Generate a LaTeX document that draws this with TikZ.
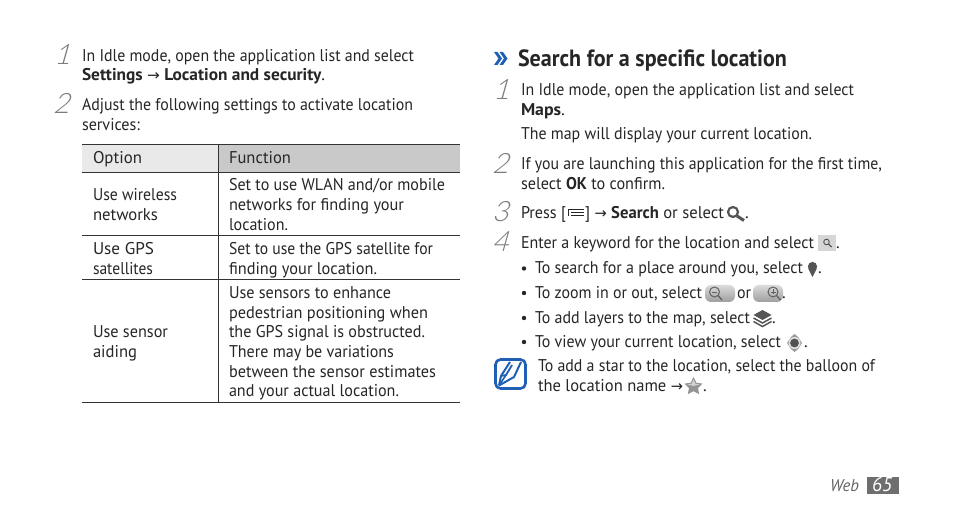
\documentclass[tikz,border=0pt]{standalone}
\usepackage{fontspec}
\usepackage{graphicx}
\setmainfont{PT Sans}
\newfontfamily\numf[FakeSlant=0.28]{Lato Light}
\newfontfamily\arrf{DejaVu Sans}
\newcommand\arr{{\arrf\fontsize{15}{20}\selectfont\mdseries →}}
\definecolor{ink}{HTML}{262626}
\definecolor{numc}{HTML}{7C7C7C}
\definecolor{hdl}{HTML}{E9E9E9}
\definecolor{hdr}{HTML}{C9C9C9}
\definecolor{rulec}{HTML}{333333}
\definecolor{bluec}{HTML}{1F5FB4}
\definecolor{pagec}{HTML}{6E6E6E}
\definecolor{iconc}{HTML}{555555}
\tikzset{
  txt/.style={anchor=base west,inner sep=0pt,outer sep=0pt,yshift=-0.7pt,text=ink,font=\fontsize{17}{20}\selectfont},
  stepnum/.style={anchor=base west,inner sep=0pt,text=numc,font=\fontsize{28}{28}\selectfont\numf},
  tabrule/.style={draw=rulec,line width=1pt},
  bulletdot/.style={circle,fill=ink,inner sep=0pt,minimum size=4.4pt},
}
\newcommand\tx[5]{\node[txt] (#1) at (#2,#3) {\resizebox{#4pt}{\height}{#5}};}
\newcommand\stepn[4]{\node[stepnum] (#1) at (#2,#3) {#4};}
\begin{document}
\begin{tikzpicture}[x=1pt,y=-1pt]
\useasboundingbox (0,0) rectangle (954,518);
\fill[white] (0,0) rectangle (954,518);
% left steps
\stepn{na}{54}{65}{1}
\stepn{nb}{53}{114}{2}
\tx{l1}{82}{61}{332}{In Idle mode, open the application list and select}
\tx{l2}{82}{80}{243}{\textbf{Settings \arr{} Location and security}.}
\tx{l3}{82}{110}{331}{Adjust the following settings to activate location}
\tx{l4}{82}{130}{58}{services:}
% table
\fill[hdl] (82,145) rectangle (218,172.5);
\fill[hdr] (218,145) rectangle (460,172.5);
\draw[tabrule] (82,145) -- (460,145);
\draw[tabrule] (82,172.5) -- (460,172.5);
\draw[tabrule] (82,236) -- (460,236);
\draw[tabrule] (82,279.5) -- (460,279.5);
\draw[tabrule] (82,403) -- (460,403);
\draw[tabrule] (218,145) -- (218,403);
\tx{t1}{93}{163}{49}{Option}
\tx{t2}{229}{163}{62}{Function}
\tx{t3}{93}{200}{84}{Use wireless}
\tx{t4}{93}{220}{65}{networks}
\tx{t5}{229}{190}{216}{Set to use WLAN and/or mobile}
\tx{t6}{229}{210}{175}{networks for finding your}
\tx{t7}{229}{230}{59}{location.}
\tx{t8}{93}{254}{61}{Use GPS}
\tx{t9}{93}{274}{60}{satellites}
\tx{t10}{229}{254}{204}{Set to use the GPS satellite for}
\tx{t11}{229}{274}{148}{finding your location.}
\tx{t12}{93}{337}{75}{Use sensor}
\tx{t13}{93}{357}{44}{aiding}
\tx{t14}{229}{298}{162}{Use sensors to enhance}
\tx{t15}{229}{318}{199}{pedestrian positioning when}
\tx{t16}{229}{337}{196}{the GPS signal is obstructed.}
\tx{t17}{229}{357}{165}{There may be variations}
\tx{t18}{229}{377}{207}{between the sensor estimates}
\tx{t19}{229}{396}{170}{and your actual location.}
% heading chevrons
\fill[bluec] (494,52) -- (497.5,52) -- (502,58.5) -- (497.5,65) -- (494,65) -- (498.5,58.5) -- cycle;
\fill[bluec] (499.5,52) -- (503,52) -- (507.5,58.5) -- (503,65) -- (499.5,65) -- (504,58.5) -- cycle;
\node[txt,font=\fontsize{23.5}{26}\selectfont\bfseries] (hd) at (518,66) {\resizebox{269pt}{\height}{Search for a specific location}};
% right steps
\stepn{ra}{493}{100}{1}
\stepn{rb}{492}{174}{2}
\stepn{rc}{492}{222}{3}
\stepn{rd}{492}{252}{4}
\tx{r1}{521}{95}{333}{In Idle mode, open the application list and select}
\tx{r2}{521}{115}{44}{\textbf{Maps}.}
\tx{r3}{521}{139}{291}{The map will display your current location.}
\tx{r4}{521}{169}{361}{If you are launching this application for the first time,}
\tx{r5}{521}{189}{144}{select \textbf{OK} to confirm.}
\tx{r6}{521}{218}{45}{Press [}
\tx{r7}{585}{218}{139}{] \arr{} \textbf{Search} or select}
\node[txt] (r7b) at (745,218) {.};
\tx{r8}{521}{248}{293}{Enter a keyword for the location and select}
\node[txt] (r8b) at (836,248) {.};
% bullets
\node[bulletdot] (b1) at (524,268.5) {};
\node[bulletdot] (b2) at (524,293) {};
\node[bulletdot] (b3) at (524,318) {};
\node[bulletdot] (b4) at (524,342) {};
\tx{r9}{535}{273}{268}{To search for a place around you, select}
\node[txt] (r9b) at (818,273) {.};
\tx{r10}{535}{298}{167}{To zoom in or out, select}
\tx{r10a}{737}{298}{14}{or}
\node[txt] (r10b) at (782,298) {.};
\tx{r11}{535}{323}{215}{To add layers to the map, select}
\node[txt] (r11b) at (772,323) {.};
\tx{r12}{535}{347}{246}{To view your current location, select}
\node[txt] (r12b) at (804,347) {.};
\tx{r13}{538}{371}{337}{To add a star to the location, select the balloon of}
\tx{r14}{538}{391}{145}{the location name \arr}
\node[txt] (r14b) at (703,391) {.};
% menu icon
\draw[ink,line width=1pt] (568.5,216) -- (568.5,210) -- (584,210);
\draw[ink,line width=1.4pt] (571,212.8) -- (584,212.8);
\draw[ink,line width=1.4pt] (571,215.8) -- (584,215.8);
% search icon
\draw[iconc,line width=2.2pt] (733,212) circle (5);
\draw[iconc,line width=3pt] (737,216) -- (744,220.5);
% search button
\fill[black!16] (818,235) rectangle (836,251);
\draw[iconc,line width=.9pt] (826.5,242) circle (2.8);
\draw[iconc,line width=1.1pt] (828.5,244) -- (831.5,247);
% pin
\fill[iconc] (808.2,268.5) -- (812.5,277) -- (816.8,268.5) -- cycle;
\fill[iconc] (812.5,266.5) circle (4.6);
% zoom out
\shade[top color=black!14,bottom color=black!38,rounded corners=6pt] (705,285) rectangle (735,302);
\draw[black!62,line width=1pt] (714.5,292) circle (5);
\draw[black!62,line width=.8pt] (712,292) -- (717,292);
\draw[black!62,line width=1.3pt] (718,295.5) -- (722,300);
% zoom in
\shade[top color=black!14,bottom color=black!38,rounded corners=6pt] (753,285) rectangle (783,302);
\draw[black!62,line width=1pt] (773,292) circle (5);
\draw[black!62,line width=.8pt] (770.5,292) -- (775.5,292) (773,289.5) -- (773,294.5);
\draw[black!62,line width=1.3pt] (776.5,295.5) -- (780.5,300);
% layers
\fill[iconc] (762.5,310) -- (771.5,315) -- (762.5,320) -- (753.5,315) -- cycle;
\draw[iconc,line width=1.5pt] (753.5,318) -- (762.5,323) -- (771.5,318);
\draw[iconc,line width=1.5pt] (753.5,321.5) -- (762.5,326.5) -- (771.5,321.5);
% current location
\fill[black!40] (794.5,334) -- (798,337) -- (802,343) -- (798,349) -- (794.5,352) -- (791,349) -- (787,343) -- (791,337) -- cycle;
\fill[black!12] (794.5,343) circle (6);
\fill[black!68] (794.5,343) circle (4.4);
% note icon
\draw[bluec,line width=2.6pt,rounded corners=5pt] (495.5,359.5) rectangle (525.5,388.5);
\draw[bluec,line width=2pt,line join=round] (499,385.5) -- (501,376) -- (510,362) (521,362) -- (514,377) -- (499,385.5);
\draw[bluec,line width=1.8pt] (501,376) -- (506,375) -- (512,365);
\draw[bluec,line width=1.6pt] (499,385.5) -- (506,375);
% star
\fill[black!42] (693.5,377) -- (696.4,382.8) -- (702.5,383.6) -- (698,388) -- (699.2,394.2) -- (693.5,391.2) -- (687.8,394.2) -- (689,388) -- (684.5,383.6) -- (690.6,382.8) -- cycle;
\fill[black!18] (693.5,379.5) -- (695.5,383.8) -- (699.8,384.4) -- (693.5,386) -- (687.2,384.4) -- (691.5,383.8) -- cycle;
% footer
\node[txt,text=black!60,font=\fontsize{17}{20}\selectfont\itshape] (web) at (830,491) {\resizebox{29pt}{\height}{Web}};
\fill[pagec] (867,477) rectangle (899,494.5);
\node[anchor=base west,inner sep=0pt,text=white,font=\fontsize{20}{20}\selectfont\itshape] (pg) at (872,492) {\resizebox{20pt}{\height}{65}};
\end{tikzpicture}
\end{document}
